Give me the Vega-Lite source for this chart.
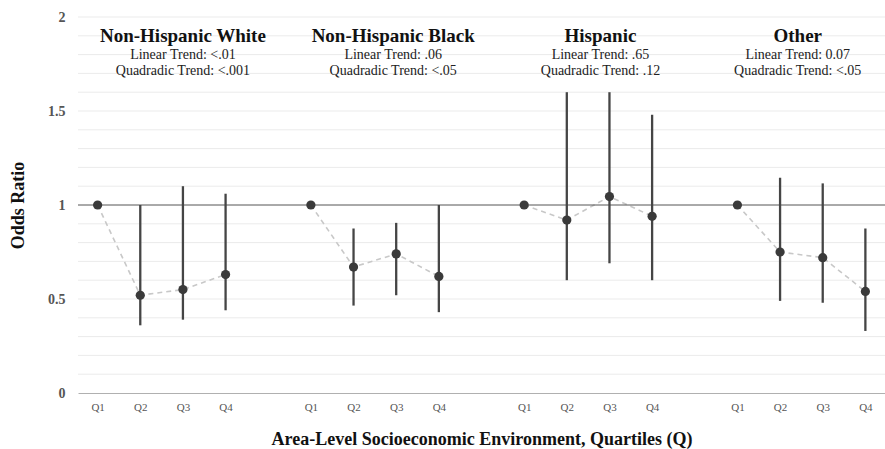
{
  "$schema": "https://vega.github.io/schema/vega-lite/v6.json",
  "autosize": {"type": "none"},
  "padding": {"left": 78, "top": 17, "right": 0, "bottom": 56},
  "width": 807,
  "height": 376,
  "background": "white",
  "config": {
    "view": {"stroke": null},
    "font": "Liberation Serif",
    "axis": {"labelOverlap": false},
    "axisY": {"labelOverlap": false, "labelBound": false}
  },
  "datasets": {
    "points": [
      {"group": "Non-Hispanic White", "cat": "White Q1", "or": 1.0, "lo": null, "hi": null},
      {"group": "Non-Hispanic White", "cat": "White Q2", "or": 0.52, "lo": 0.36, "hi": 1.0},
      {"group": "Non-Hispanic White", "cat": "White Q3", "or": 0.55, "lo": 0.39, "hi": 1.1},
      {"group": "Non-Hispanic White", "cat": "White Q4", "or": 0.63, "lo": 0.44, "hi": 1.06},
      {"group": "Non-Hispanic Black", "cat": "Black Q1", "or": 1.0, "lo": null, "hi": null},
      {"group": "Non-Hispanic Black", "cat": "Black Q2", "or": 0.67, "lo": 0.465, "hi": 0.875},
      {"group": "Non-Hispanic Black", "cat": "Black Q3", "or": 0.74, "lo": 0.52, "hi": 0.905},
      {"group": "Non-Hispanic Black", "cat": "Black Q4", "or": 0.62, "lo": 0.43, "hi": 1.0},
      {"group": "Hispanic", "cat": "Hispanic Q1", "or": 1.0, "lo": null, "hi": null},
      {"group": "Hispanic", "cat": "Hispanic Q2", "or": 0.92, "lo": 0.6, "hi": 1.6},
      {"group": "Hispanic", "cat": "Hispanic Q3", "or": 1.045, "lo": 0.69, "hi": 1.6},
      {"group": "Hispanic", "cat": "Hispanic Q4", "or": 0.94, "lo": 0.6, "hi": 1.48},
      {"group": "Other", "cat": "Other Q1", "or": 1.0, "lo": null, "hi": null},
      {"group": "Other", "cat": "Other Q2", "or": 0.75, "lo": 0.49, "hi": 1.145},
      {"group": "Other", "cat": "Other Q3", "or": 0.72, "lo": 0.48, "hi": 1.115},
      {"group": "Other", "cat": "Other Q4", "or": 0.54, "lo": 0.33, "hi": 0.875}
    ],
    "reference": [
      {"ref": 1}
    ],
    "grid": [
      {"g": 0.1}, {"g": 0.2}, {"g": 0.3}, {"g": 0.4}, {"g": 0.5}, {"g": 0.6}, {"g": 0.7}, {"g": 0.8}, {"g": 0.9},
      {"g": 1.1}, {"g": 1.2}, {"g": 1.3}, {"g": 1.4}, {"g": 1.5}, {"g": 1.6}, {"g": 1.7}, {"g": 1.8}, {"g": 1.9}, {"g": 2.0}
    ],
    "labels": [
      {"group": "Non-Hispanic White", "anchor": "White Q3", "title": "Non-Hispanic White", "line1": "Linear Trend: <.01", "line2": "Quadradic Trend: <.001"},
      {"group": "Non-Hispanic Black", "anchor": "Black Q3", "title": "Non-Hispanic Black", "line1": "Linear Trend: .06", "line2": "Quadradic Trend: <.05"},
      {"group": "Hispanic", "anchor": "Hispanic Q3", "title": "Hispanic", "line1": "Linear Trend: .65", "line2": "Quadradic Trend: .12"},
      {"group": "Other", "anchor": "Other Q3", "title": "Other", "line1": "Linear Trend: 0.07", "line2": "Quadradic Trend: <.05"}
    ]
  },
  "encoding": {
    "x": {
      "field": "cat",
      "type": "ordinal",
      "scale": {
        "type": "point",
        "padding": 0.46,
        "domain": ["White Q1", "White Q2", "White Q3", "White Q4", "gap1",
                   "Black Q1", "Black Q2", "Black Q3", "Black Q4", "gap2",
                   "Hispanic Q1", "Hispanic Q2", "Hispanic Q3", "Hispanic Q4", "gap3",
                   "Other Q1", "Other Q2", "Other Q3", "Other Q4"]
      },
      "axis": {
        "title": "Area-Level Socioeconomic Environment, Quartiles (Q)",
        "titleFont": "Liberation Serif",
        "titleFontSize": 18,
        "titleFontWeight": "bold",
        "titleColor": "#111111",
        "titlePadding": 18,
        "labelExpr": "indexof(datum.value, 'Q') >= 0 ? slice(datum.value, -2) : ''",
        "labelAngle": 0,
        "labelFont": "Liberation Serif",
        "labelFontSize": 11,
        "labelColor": "#555555",
        "labelPadding": 8,
        "ticks": false,
        "domain": true,
        "domainColor": "#b0b0b0",
        "domainWidth": 1,
        "grid": false,
        "zindex": 1
      }
    }
  },
  "layer": [
    {
      "data": {"name": "grid"},
      "mark": {"type": "rule", "color": "#ebebeb", "strokeWidth": 1},
      "encoding": {
        "x": null,
        "y": {
          "field": "g",
          "type": "quantitative",
          "scale": {"domain": [0, 2], "nice": false, "zero": true},
          "axis": {
            "title": "Odds Ratio",
            "titleFont": "Liberation Serif",
            "titleFontSize": 18,
            "titleFontWeight": "bold",
            "titleColor": "#111111",
            "titlePadding": 20,
            "values": [0, 0.5, 1, 1.5, 2],
            "format": "~g",
            "labelOverlap": false,
            "labelSeparation": 0,
            "labelFont": "Liberation Serif",
            "labelFontSize": 14,
            "labelFontWeight": "bold",
            "labelColor": "#555555",
            "labelPadding": 13,
            "ticks": false,
            "domain": false,
            "grid": false
          }
        }
      }
    },
    {
      "data": {"name": "points"},
      "mark": {"type": "line", "color": "#c8c8c8", "strokeWidth": 1.6, "strokeDash": [5, 4]},
      "encoding": {
        "y": {"field": "or", "type": "quantitative"},
        "detail": {"field": "group"}
      }
    },
    {
      "data": {"name": "reference"},
      "mark": {"type": "rule", "color": "#555555", "strokeWidth": 1},
      "encoding": {
        "x": null,
        "y": {"field": "ref", "type": "quantitative"}
      }
    },
    {
      "data": {"name": "points"},
      "transform": [{"filter": "isValid(datum.lo)"}],
      "mark": {"type": "rule", "color": "#454545", "strokeWidth": 2.3},
      "encoding": {
        "y": {"field": "lo", "type": "quantitative"},
        "y2": {"field": "hi"}
      }
    },
    {
      "data": {"name": "points"},
      "mark": {"type": "circle", "color": "#3a3a3a", "opacity": 1, "size": 85},
      "encoding": {
        "y": {"field": "or", "type": "quantitative"}
      }
    },
    {
      "data": {"name": "labels"},
      "transform": [{"filter": "datum.group == 'Non-Hispanic White'"}],
      "encoding": {"x": {"field": "anchor", "type": "ordinal"}},
      "layer": [
        {"mark": {"type": "text", "font": "Liberation Serif", "fontSize": 19, "fontWeight": "bold", "color": "#111111", "baseline": "middle", "dx": 0}, "encoding": {"y": {"datum": 1.9}, "text": {"field": "title"}}},
        {"mark": {"type": "text", "font": "Liberation Serif", "fontSize": 14, "color": "#222222", "baseline": "middle", "dx": 0}, "encoding": {"y": {"datum": 1.8}, "text": {"field": "line1"}}},
        {"mark": {"type": "text", "font": "Liberation Serif", "fontSize": 14, "color": "#222222", "baseline": "middle", "dx": 0}, "encoding": {"y": {"datum": 1.715}, "text": {"field": "line2"}}}
      ]
    },
    {
      "data": {"name": "labels"},
      "transform": [{"filter": "datum.group == 'Non-Hispanic Black'"}],
      "encoding": {"x": {"field": "anchor", "type": "ordinal"}},
      "layer": [
        {"mark": {"type": "text", "font": "Liberation Serif", "fontSize": 19, "fontWeight": "bold", "color": "#111111", "baseline": "middle", "dx": -3}, "encoding": {"y": {"datum": 1.9}, "text": {"field": "title"}}},
        {"mark": {"type": "text", "font": "Liberation Serif", "fontSize": 14, "color": "#222222", "baseline": "middle", "dx": -3}, "encoding": {"y": {"datum": 1.8}, "text": {"field": "line1"}}},
        {"mark": {"type": "text", "font": "Liberation Serif", "fontSize": 14, "color": "#222222", "baseline": "middle", "dx": -3}, "encoding": {"y": {"datum": 1.715}, "text": {"field": "line2"}}}
      ]
    },
    {
      "data": {"name": "labels"},
      "transform": [{"filter": "datum.group == 'Hispanic'"}],
      "encoding": {"x": {"field": "anchor", "type": "ordinal"}},
      "layer": [
        {"mark": {"type": "text", "font": "Liberation Serif", "fontSize": 19, "fontWeight": "bold", "color": "#111111", "baseline": "middle", "dx": -9}, "encoding": {"y": {"datum": 1.9}, "text": {"field": "title"}}},
        {"mark": {"type": "text", "font": "Liberation Serif", "fontSize": 14, "color": "#222222", "baseline": "middle", "dx": -9}, "encoding": {"y": {"datum": 1.8}, "text": {"field": "line1"}}},
        {"mark": {"type": "text", "font": "Liberation Serif", "fontSize": 14, "color": "#222222", "baseline": "middle", "dx": -9}, "encoding": {"y": {"datum": 1.715}, "text": {"field": "line2"}}}
      ]
    },
    {
      "data": {"name": "labels"},
      "transform": [{"filter": "datum.group == 'Other'"}],
      "encoding": {"x": {"field": "anchor", "type": "ordinal"}},
      "layer": [
        {"mark": {"type": "text", "font": "Liberation Serif", "fontSize": 19, "fontWeight": "bold", "color": "#111111", "baseline": "middle", "dx": -25}, "encoding": {"y": {"datum": 1.9}, "text": {"field": "title"}}},
        {"mark": {"type": "text", "font": "Liberation Serif", "fontSize": 14, "color": "#222222", "baseline": "middle", "dx": -25}, "encoding": {"y": {"datum": 1.8}, "text": {"field": "line1"}}},
        {"mark": {"type": "text", "font": "Liberation Serif", "fontSize": 14, "color": "#222222", "baseline": "middle", "dx": -25}, "encoding": {"y": {"datum": 1.715}, "text": {"field": "line2"}}}
      ]
    }
  ]
}
